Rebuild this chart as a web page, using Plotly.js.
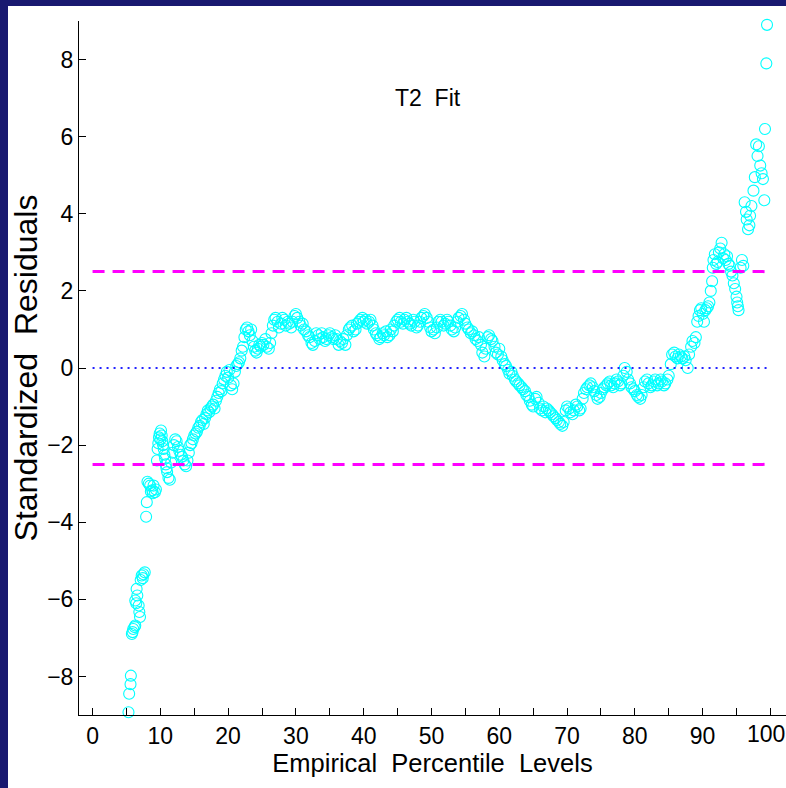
<!DOCTYPE html>
<html>
<head>
<meta charset="utf-8">
<script src="https://cdn.plot.ly/plotly-3.0.1.min.js"></script>
<style>
  html, body { margin: 0; padding: 0; background: #191970; width: 786px; height: 788px; overflow: hidden; }
  #plot { position: absolute; left: 8px; top: 6px; width: 778px; height: 782px; background: #ffffff; }
</style>
</head>
<body>
<div id="plot"></div>
<script>
// Empirical percentile levels (x) and standardized residuals (y)
const percentile = [
  5.3,5.4,5.6,5.65,5.8,5.9,6.0,6.2,6.3,6.3,6.45,6.5,6.6,6.8,6.9,7.0,7.1,7.25,7.4,7.5,7.7,7.9,8.0,8.1,8.3,8.5,8.6,8.8,8.9,9.0,9.2,9.35,9.5,
  9.6,9.7,9.8,9.9,10.0,10.1,10.2,10.3,10.4,10.5,10.6,10.7,10.8,10.9,11.0,11.2,11.4,
  11.6,11.8,12.0,12.2,12.4,12.6,12.8,13.0,13.2,13.4,13.6,13.8,14.0,
  14.2,14.4,14.6,14.8,15.0,15.2,15.4,15.6,15.8,16.0,16.2,16.4,16.6,16.8,17.0,17.2,17.4,17.6,17.8,18.0,18.2,18.4,18.6,18.8,19.0,19.2,19.4,19.6,19.8,20.0,20.2,20.4,20.6,20.8,21.0,21.2,21.4,21.6,21.8,22.0,22.2,
  22.4,22.6,22.8,23.0,23.2,23.4,23.6,23.8,24.0,24.2,24.4,24.6,24.8,25.0,25.2,25.5,25.7,26.0,26.2,26.4,26.6,26.8,27.0,27.3,27.5,27.8,28.0,28.3,28.5,28.8,29.0,29.3,29.5,29.8,30.0,30.2,30.5,30.7,31.0,31.2,31.5,31.8,32.0,32.3,32.5,32.8,33.0,33.3,33.5,33.8,34.0,34.3,34.5,34.8,35.0,35.3,35.5,35.8,36.0,36.3,36.5,36.8,37.0,37.3,37.5,37.8,38.0,38.3,38.5,38.8,39.0,39.3,39.5,39.8,
  40.0,40.3,40.5,40.8,41.0,41.3,41.5,41.8,42.0,42.3,42.5,42.8,43.0,43.3,43.5,43.8,44.0,44.3,44.5,44.8,45.0,45.3,45.5,45.8,46.0,46.3,46.5,46.8,47.0,47.3,47.5,47.8,48.0,48.3,48.5,48.8,49.0,49.3,49.5,49.8,
  50.0,50.3,50.5,50.8,51.0,51.3,51.5,51.8,52.0,52.3,52.5,52.8,53.0,53.3,53.5,53.8,54.0,54.3,54.5,54.8,55.0,55.3,55.5,55.8,56.0,56.3,56.5,56.8,57.0,57.3,57.5,57.8,58.0,58.3,58.5,58.8,59.0,59.3,59.5,59.8,
  60.0,60.3,60.5,60.8,61.0,61.3,61.5,61.8,62.0,62.3,62.5,62.8,63.0,63.3,63.5,63.8,64.0,64.3,64.5,64.8,65.0,65.3,65.5,65.8,66.0,66.3,66.5,66.8,67.0,67.3,67.5,67.8,68.0,68.3,68.5,68.8,69.0,69.3,69.5,69.8,
  70.0,70.3,70.5,70.8,71.0,71.3,71.5,71.8,72.0,72.3,72.5,72.8,73.0,73.3,73.5,73.8,74.0,74.3,74.5,74.8,75.0,75.3,75.5,75.8,76.0,76.3,76.5,76.8,77.0,77.3,77.5,77.8,78.0,78.3,78.5,78.8,79.0,79.3,79.5,79.8,
  80.0,80.3,80.5,80.8,81.0,81.3,81.5,81.8,82.0,82.3,82.5,82.8,83.0,83.3,83.5,83.8,84.0,84.3,84.5,84.8,85.0,85.3,85.5,85.8,86.0,86.3,86.5,86.8,87.0,87.3,87.5,87.8,88.0,88.3,88.5,88.8,89.0,89.2,89.4,89.6,89.8,
  90.0,90.2,90.4,90.6,90.8,91.0,91.2,91.4,91.5,91.6,91.8,92.0,92.2,92.4,92.6,92.8,93.0,93.2,93.4,93.6,93.8,94.0,94.2,94.4,94.6,94.8,95.0,95.1,95.2,95.3,95.6,95.8,96.0,
  96.2,96.4,96.5,96.7,96.9,97.0,97.2,97.5,97.7,97.9,98.1,98.3,98.5,98.7,98.9,99.1,99.2,99.4,99.5
];
const residual = [
  -8.93,-8.45,-8.2,-7.98,-6.9,-6.85,-6.77,-6.72,-6.68,-6.03,-6.1,-5.73,-5.9,-6.16,-6.33,-6.46,-5.5,-5.38,-5.45,-5.35,-5.3,-3.86,-3.48,-2.95,-3.0,-3.05,-3.2,-3.17,-3.25,-3.05,-3.22,-3.15,-2.4,
  -2.1,-1.95,-1.8,-1.7,-1.85,-1.62,-1.75,-1.9,-2.0,-2.1,-2.25,-2.35,-2.5,-2.6,-2.7,-2.85,-2.9,
  -2.45,-2.2,-2.0,-1.85,-1.9,-2.05,-2.15,-2.25,-2.3,-2.4,-2.5,-2.55,-2.4,
  -2.2,-2.0,-1.95,-1.85,-1.75,-1.7,-1.65,-1.55,-1.5,-1.4,-1.35,-1.45,-1.3,-1.2,-1.1,-1.15,-1.05,-1.0,-0.95,-1.05,-0.85,-0.75,-0.65,-0.55,-0.6,-0.4,-0.3,-0.2,-0.1,-0.25,-0.05,-0.45,-0.55,-0.4,-0.1,0.05,0.1,0.15,0.25,0.45,0.55,
  0.8,1.0,1.05,0.95,0.85,1.0,0.7,0.55,0.45,0.4,0.5,0.6,0.55,0.65,0.6,0.75,0.55,0.5,0.65,0.9,1.1,1.25,1.3,1.2,1.05,1.15,1.3,1.25,1.1,1.2,1.15,1.05,1.2,1.35,1.4,1.3,1.2,1.1,1.15,1.0,0.95,0.85,0.8,0.65,0.6,0.7,0.9,0.85,0.75,0.9,0.8,0.7,0.75,0.85,0.9,0.8,0.75,0.85,0.75,0.6,0.7,0.65,0.75,0.6,0.85,1.0,1.05,1.1,0.95,1.0,1.15,1.2,1.25,1.3,
  1.2,1.25,1.15,1.2,1.25,1.1,1.0,0.9,0.85,0.75,0.8,0.9,0.85,0.95,0.8,0.85,1.0,0.95,1.1,1.2,1.25,1.3,1.2,1.15,1.25,1.3,1.2,1.15,1.1,1.25,1.2,1.05,1.1,1.2,1.3,1.35,1.4,1.3,1.2,1.05,
  0.95,1.0,0.9,1.05,1.2,1.25,1.2,1.1,1.15,1.25,1.2,1.1,1.0,0.95,1.05,1.2,1.3,1.35,1.4,1.25,1.15,1.05,1.0,0.9,0.95,0.85,0.75,0.7,0.8,0.6,0.4,0.3,0.5,0.8,0.85,0.75,0.7,0.55,0.4,0.35,
  0.5,0.3,0.2,0.1,0.05,-0.05,-0.15,-0.1,-0.2,-0.3,-0.35,-0.4,-0.45,-0.5,-0.55,-0.6,-0.7,-0.75,-0.85,-0.95,-1.0,-0.8,-0.75,-0.9,-1.05,-1.1,-1.0,-1.15,-1.05,-1.1,-1.15,-1.2,-1.25,-1.3,-1.35,-1.4,-1.45,-1.5,-1.4,-1.1,
  -1.0,-1.05,-1.15,-1.2,-1.1,-0.95,-1.0,-1.1,-1.05,-0.8,-0.65,-0.55,-0.5,-0.45,-0.4,-0.5,-0.6,-0.7,-0.8,-0.75,-0.65,-0.55,-0.5,-0.45,-0.4,-0.35,-0.45,-0.5,-0.4,-0.3,-0.35,-0.45,-0.4,-0.2,0.0,-0.1,-0.3,-0.4,-0.5,-0.55,
  -0.6,-0.7,-0.75,-0.8,-0.7,-0.5,-0.35,-0.3,-0.4,-0.5,-0.45,-0.35,-0.3,-0.45,-0.4,-0.3,-0.35,-0.45,-0.4,-0.3,-0.2,0.1,0.35,0.4,0.3,0.25,0.35,0.3,0.25,0.3,0.2,0.0,0.35,0.55,0.7,0.65,0.8,1.2,1.35,1.5,1.55,
  1.4,1.2,1.5,1.55,1.6,1.7,2.0,2.25,2.6,2.8,2.95,2.7,2.75,3.0,3.1,3.25,2.85,2.95,2.8,2.9,2.7,2.65,2.5,2.4,2.2,2.05,1.85,1.7,1.6,1.5,2.6,2.8,2.65,
  4.3,4.05,3.85,3.6,3.7,3.95,4.2,4.6,4.95,5.8,5.5,5.75,5.25,5.05,4.9,4.35,6.2,7.9,8.9
];
// Reference lines
const bandLevel = 2.5;
const lineStart = 0;
const lineEnd = 99.5;
// Tick positions and labels (the last label is drawn flush with the right edge)
const xTickVals = [0,10,20,30,40,50,60,70,80,90,100];
const xTickText = ['0','10','20','30','40','50','60','70','80','90',''];
const lastXTickLabel = '100';
const yTickVals = [-8,-6,-4,-2,0,2,4,6,8];

const textFont = 'Liberation Sans, Arial, sans-serif';

const trace = {
  x: percentile, y: residual,
  type: 'scatter', mode: 'markers',
  marker: { symbol: 'circle-open', size: 11, color: '#00ffff', line: { width: 1.1, color: '#00ffff' } },
  cliponaxis: false,
  hoverinfo: 'x+y'
};

const layout = {
  width: 778, height: 782,
  margin: { l: 71, r: 0, t: 15, b: 73 },
  paper_bgcolor: '#ffffff', plot_bgcolor: '#ffffff',
  showlegend: false,
  font: { family: textFont, color: '#000000', size: 22 },
  xaxis: {
    range: [-2, 102.3], showgrid: false, zeroline: false,
    showline: true, linecolor: '#000000', linewidth: 1, mirror: false,
    ticks: 'inside', ticklen: 7, tickcolor: '#000000', tickwidth: 1,
    tickvals: xTickVals, ticktext: xTickText,
    minor: { dtick: 5, tick0: 0, ticks: 'inside', ticklen: 7, tickcolor: '#000000', showgrid: false },
    tickfont: { family: textFont, size: 23, color: '#000000' },
    title: { text: 'Empirical\u00a0 Percentile\u00a0 Levels', font: { family: textFont, size: 25.5, color: '#000000' }, standoff: 6 }
  },
  yaxis: {
    range: [-9, 9], showgrid: false, zeroline: false,
    showline: true, linecolor: '#000000', linewidth: 1, mirror: false,
    ticks: 'inside', ticklen: 7, tickcolor: '#000000', tickwidth: 1,
    tickvals: yTickVals,
    tickfont: { family: textFont, size: 23, color: '#000000' },
    title: { text: 'Standardized\u00a0 Residuals', font: { family: textFont, size: 32, color: '#000000' }, standoff: 6 }
  },
  shapes: [
    { type: 'line', xref: 'x', yref: 'y', x0: lineStart, x1: lineEnd, y0: bandLevel, y1: bandLevel, line: { color: '#ff00ff', width: 3, dash: '12px,8px' } },
    { type: 'line', xref: 'x', yref: 'y', x0: lineStart, x1: lineEnd, y0: -bandLevel, y1: -bandLevel, line: { color: '#ff00ff', width: 3, dash: '12px,8px' } },
    { type: 'line', xref: 'x', yref: 'y', x0: lineStart, x1: lineEnd, y0: 0, y1: 0, line: { color: '#2222ff', width: 2, dash: '2px,5px' } }
  ],
  annotations: [
    { x: 49.5, y: 7.0, xref: 'x', yref: 'y', text: 'T2\u00a0 Fit', showarrow: false, font: { family: textFont, size: 23, color: '#000000' } },
    { x: 1, y: 0, xref: 'paper', yref: 'paper', xanchor: 'right', yanchor: 'top', yshift: -5, text: lastXTickLabel, showarrow: false, borderpad: 0, font: { family: textFont, size: 23, color: '#000000' } }
  ]
};

Plotly.newPlot('plot', [trace], layout, { staticPlot: true, displayModeBar: false });
</script>
</body>
</html>
